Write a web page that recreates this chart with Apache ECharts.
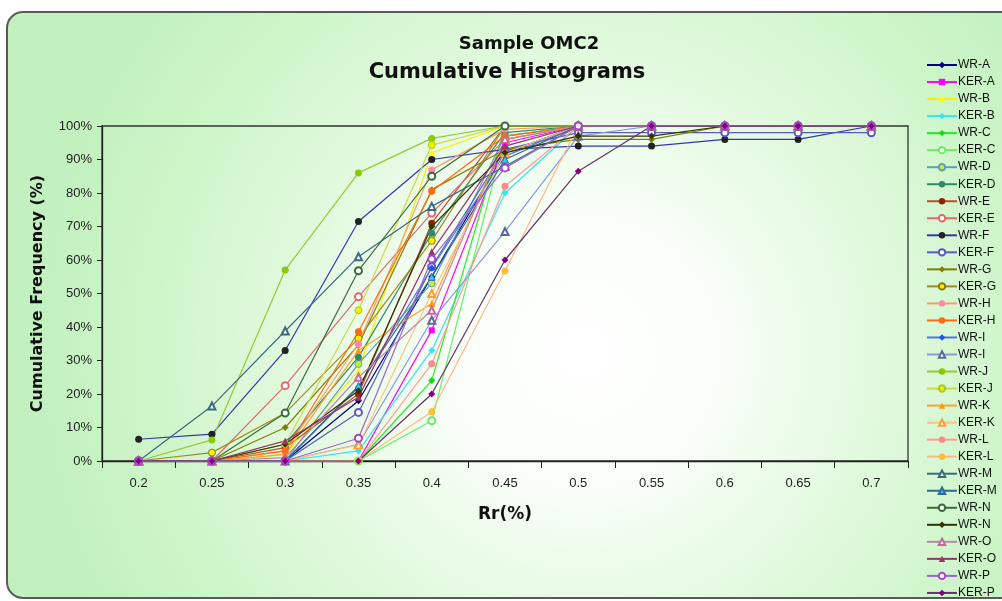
<!DOCTYPE html>
<html><head><meta charset="utf-8">
<script src="https://cdn.jsdelivr.net/npm/echarts@6/dist/echarts.min.js"></script>
<style>html,body{margin:0;padding:0;background:#fff}#c{width:1002px;height:601px}</style>
</head><body><div id="c"></div>
<script>
const categories = ['0.2','0.25','0.3','0.35','0.4','0.45','0.5','0.55','0.6','0.65','0.7'];
const yTicks = [0,10,20,30,40,50,60,70,80,90,100];
const WR_A  = [0,0,0,18,55,92,100,100,100,100,100];
const KER_A = [0,0,0,0,39,95,100,100,100,100,100];
const WR_B  = [0,0,2,27,92,100,100,100,100,100,100];
const KER_B = [0,0,0,3,33,80,100,100,100,100,100];
const WR_C  = [0,0,0,0,24,100,100,100,100,100,100];
const KER_C = [0,0,0,0,12,97,100,100,100,100,100];
const WR_D  = [0,0,0,29,53,97,100,100,100,100,100];
const KER_D = [0,0,5,31,68,98,100,100,100,100,100];
const WR_E  = [0,0,4,20,71,100,100,100,100,100,100];
const KER_E = [0,0,22.5,49,74,96,100,100,100,100,100];
const WR_F  = [6.5,8,33,71.5,90,93,94,94,96,96,100];
const KER_F = [0,0,0,14.5,58,93,98,98,98,98,98];
const WR_G  = [0,0,10,34.6,81,93,96,96,100,100,100];
const KER_G = [0,2.5,14.3,36.6,65.7,100,100,100,100,100,100];
const WR_H  = [0,0,3,35,86.9,99,100,100,100,100,100];
const KER_H = [0,0,3,38.6,80.5,97,100,100,100,100,100];
const WR_I  = [0,0,0,22,57.6,91,100,100,100,100,100];
const WR_I2 = [0,0,0,5,42,68.5,97,100,100,100,100];
const WR_J  = [0,6.3,57,86,96.3,100,100,100,100,100,100];
const KER_J = [0,0,5,45,94.3,100,100,100,100,100,100];
const WR_K  = [0,0,2,33,47,96,100,100,100,100,100];
const KER_K = [0,0,0,4.8,50,92,100,100,100,100,100];
const WR_L  = [0,0,0,0,29,82,100,100,100,100,100];
const KER_L = [0,0,0,0,14.7,56.7,100,100,100,100,100];
const WR_M  = [0,16.4,38.8,61,76,88,100,100,100,100,100];
const KER_M = [0,0,0,22.4,55,90,100,100,100,100,100];
const WR_N  = [0,0,14.3,56.8,85,100,100,100,100,100,100];
const WR_N2 = [0,0,5,21,70,92,97,97,100,100,100];
const WR_O  = [0,0,1,25,45,96,100,100,100,100,100];
const KER_O = [0,0,6,19,62.5,94,100,100,100,100,100];
const WR_P  = [0,0,0,6.8,60.3,87.5,100,100,100,100,100];
const KER_P = [0,0,0,0,20,60,86.5,100,100,100,100];

const seriesNames = ['WR-A','KER-A','WR-B','KER-B','WR-C','KER-C','WR-D','KER-D','WR-E','KER-E','WR-F','KER-F','WR-G','KER-G','WR-H','KER-H','WR-I','WR-I ','WR-J','KER-J','WR-K','KER-K','WR-L','KER-L','WR-M','KER-M','WR-N','WR-N ','WR-O','KER-O','WR-P','KER-P'];
const seriesValues = [WR_A,KER_A,WR_B,KER_B,WR_C,KER_C,WR_D,KER_D,WR_E,KER_E,WR_F,KER_F,WR_G,KER_G,WR_H,KER_H,WR_I,WR_I2,WR_J,KER_J,WR_K,KER_K,WR_L,KER_L,WR_M,KER_M,WR_N,WR_N2,WR_O,KER_O,WR_P,KER_P];
// [line colour, marker fill, symbol, marker border]
const styles = [
 ['#000080','#000080','diamond'],
 ['#ff00ff','#ff00ff','rect'],
 ['#f2f200','#ffff00','triangle'],
 ['#33e6f0','#33e6f0','diamond'],
 ['#22ee22','#11dd11','diamond'],
 ['#66ee66','#66ee66','emptyCircle'],
 ['#5f9fb5','#ccee33','circle','#5f9fb5'],
 ['#2e8b6a','#2e8b6a','circle'],
 ['#b5502e','#8b2500','circle'],
 ['#e06a6a','#e06a6a','emptyCircle'],
 ['#3535b0','#222222','circle'],
 ['#5a5ac0','#5a5ac0','emptyCircle'],
 ['#808000','#808000','diamond'],
 ['#a08a20','#ffee00','circle','#808000'],
 ['#f0a070','#ff88aa','circle'],
 ['#ff6a10','#ff6a10','circle'],
 ['#4a78e0','#1f55f0','diamond'],
 ['#8a98dd','#5a6aa0','emptyTriangle'],
 ['#99c833','#88cc00','circle'],
 ['#c8dc44','#eeee00','circle','#aacc22'],
 ['#ffa030','#ff9900','triangle'],
 ['#ffc480','#ffa030','emptyTriangle'],
 ['#ff9a9a','#ff8888','circle'],
 ['#ffb888','#ffc030','circle'],
 ['#3a6a80','#3a6a80','emptyTriangle'],
 ['#336699','#33ccff','triangle','#336699'],
 ['#3a6a3a','#3a6a3a','emptyCircle'],
 ['#333300','#333300','diamond'],
 ['#bb88aa','#cc6699','emptyTriangle'],
 ['#993366','#993366','triangle'],
 ['#9966cc','#aa44cc','emptyCircle'],
 ['#663366','#800080','diamond']
];

const series = seriesNames.map((n,i)=>{
  const s = styles[i];
  return {
    name:n, type:'line', data: seriesValues[i], symbol:s[2],
    symbolSize: s[2]==='rect'?6:7, showAllSymbol:true,
    lineStyle:{color:s[0], width:1.2},
    itemStyle:{color:s[1], borderColor: s[3]||s[1], borderWidth: s[2].startsWith('empty')?1.3:(s[3]?1:0)},
    emphasis:{disabled:true}, animation:false
  };
});

const chart = echarts.init(document.getElementById('c'));
chart.setOption({
  animation:false,
  graphic:[
    {type:'rect', z:-10, silent:true, shape:{x:7,y:12,width:1030,height:586,r:16},
     style:{fill:{type:'radial',x:0.56,y:0.58,r:0.95,colorStops:[
       {offset:0,color:'#ffffff'},{offset:0.25,color:'#f8fef7'},{offset:0.55,color:'#e0f9dc'},{offset:0.8,color:'#ccf5c8'},{offset:1,color:'#c2f0be'}]},
       stroke:'#5a5a5a', lineWidth:2}},
    {type:'text', x:529, y:44, silent:true,
     style:{text:'Sample OMC2', font:'bold 18px "DejaVu Sans"', fill:'#111', align:'center', verticalAlign:'middle'}},
    {type:'text', x:507, y:73, silent:true,
     style:{text:'Cumulative Histograms', font:'bold 21px "DejaVu Sans"', fill:'#111', align:'center', verticalAlign:'middle'}}
  ],
  legend:{
    data: seriesNames, orient:'vertical', left:926, top:59,
    itemWidth:30, itemHeight:8, itemGap:5.03,
    textStyle:{fontFamily:'"Liberation Sans Narrow","Liberation Sans",Arial', fontSize:12, color:'#111', padding:[0,0,0,-4]},
    selectedMode:false, padding:0
  },
  grid:{left:102, right:94, top:126, bottom:140, containLabel:false, show:true, borderColor:'#333', borderWidth:1.3, backgroundColor:'transparent'},
  xAxis:{
    type:'category', data:categories, boundaryGap:true,
    axisLine:{lineStyle:{color:'#222', width:1.3}},
    axisTick:{show:true, length:7, lineStyle:{color:'#222'}},
    axisLabel:{color:'#222', fontFamily:'"Liberation Sans Narrow","Liberation Sans",Arial', fontSize:13, margin:16},
    name:'Rr(%)', nameLocation:'middle', nameGap:45,
    nameTextStyle:{fontFamily:'"DejaVu Sans"', fontWeight:'bold', fontSize:17, color:'#111'}
  },
  yAxis:{
    type:'value', min:0, max:100, interval:10,
    axisLine:{show:true, lineStyle:{color:'#222', width:1.3}},
    axisTick:{show:true, length:5, lineStyle:{color:'#222'}},
    splitLine:{show:false},
    axisLabel:{color:'#222', fontFamily:'"Liberation Sans Narrow","Liberation Sans",Arial', fontSize:13, margin:10, formatter:v=>v+'%'},
    name:'Cumulative Frequency (%)', nameLocation:'middle', nameGap:56,
    nameTextStyle:{fontFamily:'"DejaVu Sans"', fontWeight:'bold', fontSize:16, color:'#111'}
  },
  series: series
});
</script></body></html>
